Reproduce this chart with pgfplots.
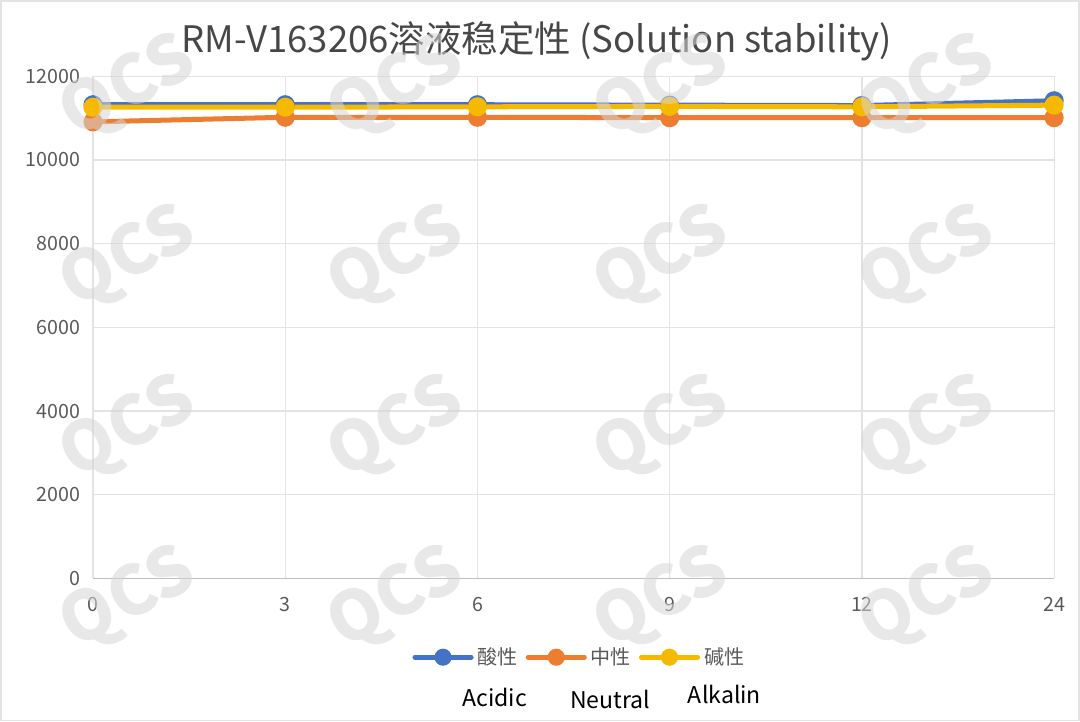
\documentclass[border=0pt]{standalone}
\usepackage{fontspec}
\setmainfont{Noto Sans CJK SC}
\usepackage{pgfplots}
\pgfplotsset{compat=1.18}

\definecolor{acid}{HTML}{4472C4}
\definecolor{neut}{HTML}{ED7D31}
\definecolor{alka}{HTML}{F5BA00}
\definecolor{txt}{HTML}{595959}
\definecolor{gridc}{HTML}{E3E3E3}

\begin{document}
\begin{tikzpicture}
% outer frame of the chart area
\draw[gridc, line width=0.8bp] (1bp,3bp) rectangle (539bp,362bp);
\node[text=txt!80!black, font=\fontsize{18.2bp}{20bp}\selectfont] at (268.5bp,342bp)
  {RM-V163206溶液稳定性 (Solution stability)};
\begin{axis}[
    at={(47bp,73.85bp)}, anchor=south west,
    scale only axis, width=479.5bp, height=250.5bp,
    xmin=0, xmax=5, ymin=0, ymax=12000,
    xtick={0,1,2,3,4,5},
    xticklabels={0,3,6,9,12,24},
    ytick={0,2000,4000,6000,8000,10000,12000},
    scaled y ticks=false,
    /pgf/number format/assume math mode=true,
    yticklabel={\pgfmathprintnumber[fixed,1000 sep={}]{\tick}},
    grid=major,
    major grid style={gridc, line width=0.6bp},
    axis x line*=bottom, axis y line*=left,
    x axis line style={draw=black!25, line width=0.8bp, -},
    y axis line style={draw=none},
    major tick length=0pt,
    tick label style={text=txt, font=\fontsize{9.8bp}{11bp}\selectfont},
    yticklabel style={xshift=-3bp},
    xticklabel style={yshift=-6bp},
    clip=false,
    legend columns=3,
    legend style={at={(0.507,-0.157)}, anchor=center, draw=none, fill=none,
      text=txt, font=\fontsize{10bp}{11bp}\selectfont,
      /tikz/every even column/.append style={column sep=2bp}},
    legend image code/.code={
      \draw[#1, line width=2.5bp, line cap=round] (0bp,0bp) -- (28bp,0bp);
      \fill[#1] (14bp,0bp) circle (3bp);
    },
]
\addplot[acid, line width=2.5bp, mark=*, mark size=3.5bp, mark options={fill=acid, draw=acid}]
  coordinates {(0,11320) (1,11320) (2,11320) (3,11310) (4,11300) (5,11415)};
\addlegendentry{酸性}
\addplot[neut, line width=2.5bp, mark=*, mark size=3.5bp, mark options={fill=neut, draw=neut}]
  coordinates {(0,10910) (1,11020) (2,11020) (3,11010) (4,11010) (5,11010)};
\addlegendentry{中性}
\addplot[alka, line width=2.5bp, mark=*, mark size=3.5bp, mark options={fill=alka, draw=alka}]
  coordinates {(0,11260) (1,11260) (2,11270) (3,11280) (4,11270) (5,11310)};
\addlegendentry{碱性}
\node[font=\fontsize{11.5bp}{13bp}\selectfont] at (axis description cs:0.418,-0.237) {Acidic};
\node[font=\fontsize{11.5bp}{13bp}\selectfont] at (axis description cs:0.538,-0.241) {Neutral};
\node[font=\fontsize{11.5bp}{13bp}\selectfont] at (axis description cs:0.657,-0.231) {Alkalin};
\end{axis}
% watermark
\foreach \wx in {65,198.5,331,463.5}{
  \foreach \wy in {318,233,148,63}{
    \node[rotate=28, text=black!16, opacity=0.55, font=\bfseries\fontsize{34bp}{36bp}\selectfont]
      at (\wx bp,\wy bp) {QCS};
  }
}
\end{tikzpicture}
\end{document}
